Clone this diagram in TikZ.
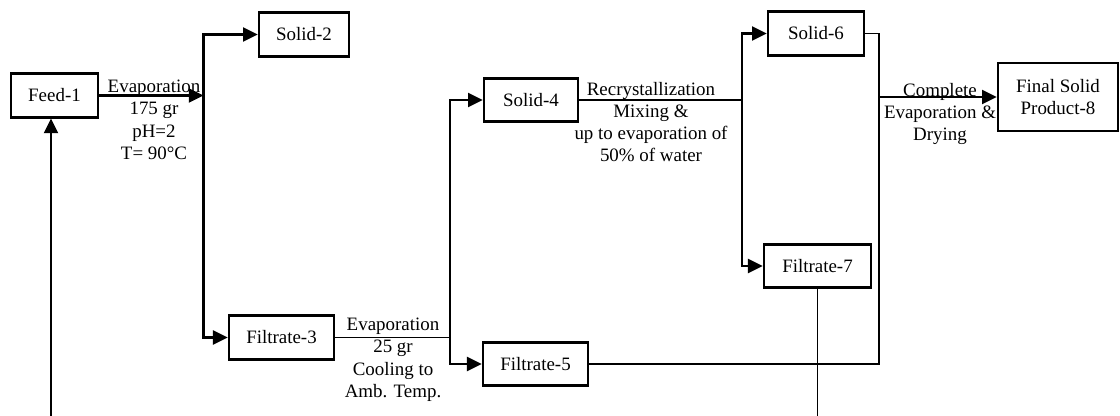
\documentclass[tikz,border=0pt]{standalone}
\usepackage{fontspec}
\setmainfont{Liberation Serif}
\usetikzlibrary{arrows.meta}
\tikzset{
  unit/.style={draw, line width=2pt, minimum height=32.6pt, inner sep=0pt},
  flow/.style={line width=1.6pt, -{Triangle[length=11pt,width=10.5pt]}},
  pipe/.style={line width=1.4pt},
  note/.style={inner sep=0pt, align=center, anchor=north}
}

\begin{document}
\begin{tikzpicture}[x=0.75pt,y=0.75pt,yscale=-1,xscale=1,
  every node/.style={font=\fontsize{14.2pt}{16.6pt}\selectfont}]

\useasboundingbox (0,0) rectangle (1120,416);

% streams
\draw (54.5,95.5) node [unit, minimum width=65.3pt] (feed) {Feed-1};
\draw (304,34.5) node [unit, minimum width=67.5pt] (solidtwo) {Solid-2};
\draw (281.5,337.5) node [unit, minimum width=78.8pt] (filtthree) {Filtrate-3};
\draw (531,100) node [unit, minimum width=70.5pt] (solidfour) {Solid-4};
\draw (535.5,364) node [unit, minimum width=78.8pt] (filtfive) {Filtrate-5};
\draw (816,33.5) node [unit, minimum width=72pt] (solidsix) {Solid-6};
\draw (817.5,266) node [unit, minimum width=80.3pt] (filtseven) {Filtrate-7};
\draw (1058,97) node [unit, minimum width=90pt, minimum height=51pt, align=center] (final) {Final Solid\\Product-8};

% split points
\coordinate (split1) at (203.5,95.5);
\coordinate (split2) at (450,337.5);
\coordinate (split3) at (742,100);
\coordinate (joint) at (879,97);
\coordinate (ret1) at (51,416);
\coordinate (ret2) at (817.5,416);

% connectors
\draw [flow] (feed) -- (split1);
\draw [flow] (split1) |- (solidtwo);
\draw [flow] (split1) |- (filtthree);
\draw [pipe] (filtthree) -- (split2);
\draw [flow] (split2) |- (solidfour);
\draw [flow] (split2) |- (filtfive);
\draw [pipe] (solidfour) -- (split3);
\draw [flow] (split3) |- (solidsix);
\draw [flow] (split3) |- (filtseven);
\draw [pipe] (solidsix) -| (joint);
\draw [pipe] (filtfive) -| (joint);
\draw [flow] (joint) -- (final);
\draw [flow] (ret1) -- (ret1 |- feed.south);
\draw [pipe] (filtseven) -- (ret2);

% conditions
\draw (154,80) node [note] (evapone) {Evaporation\\175 gr\\pH=2\\T= 90°C};
\draw (393,318) node [note] (evaptwo) {Evaporation\\25 gr\\Cooling to\\Amb. Temp.};
\draw (651,82) node [note] (recryst) {Recrystallization\\Mixing \&\\up to evaporation of\\50\% of water};
\draw (940,83) node [note] (drying) {Complete\\Evaporation \&\\Drying};

\end{tikzpicture}
\end{document}
